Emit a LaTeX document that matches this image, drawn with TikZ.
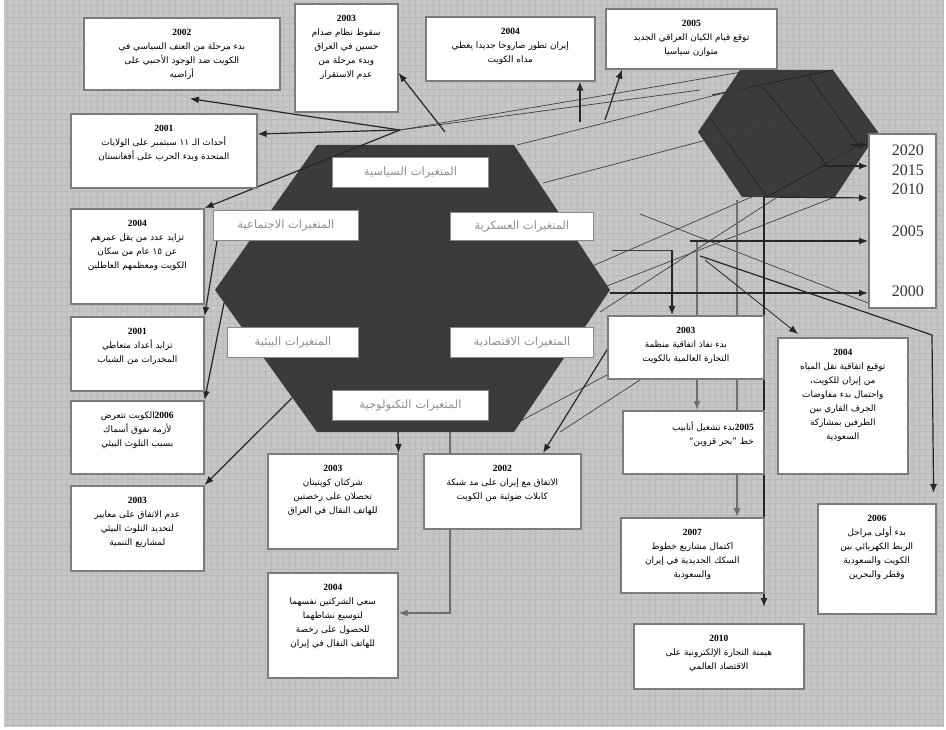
\documentclass[tikz,border=0pt]{standalone}
\usepackage{fontspec}
\setmainfont{Liberation Serif}
\newfontfamily\arabicfont[Script=Arabic]{DejaVu Sans}
\TeXXeTstate=1
\usetikzlibrary{arrows.meta,calc}
\pgfdeclarelayer{bg}
\pgfdeclarelayer{lines}
\pgfsetlayers{bg,lines,main}
\definecolor{bgc}{HTML}{C6C6C6}
\definecolor{gridc}{HTML}{BABABA}
\definecolor{hexc}{HTML}{3B3B3B}
\definecolor{hexline}{HTML}{262626}
\definecolor{boxc}{HTML}{7C7C7C}
\definecolor{lblc}{HTML}{8E8E8E}
\definecolor{thinc}{HTML}{3F3F3F}
\definecolor{grayl}{HTML}{6E6E6E}
\newcommand\ar[1]{{\arabicfont\beginR #1\endR}}
\newcommand\yr[1]{{\fontsize{9.5}{12}\selectfont\bfseries #1}}
\newcommand\yl[1]{{\rmfamily\fontsize{9.5}{12}\selectfont\bfseries\beginL #1\endL}}
\newcommand\abox[7][]{\node[box,anchor=north west,minimum width=#5pt,minimum height=#6pt,#1] (#2) at (#3,#4) {\parbox[c][#6pt][t]{#5pt}{\centering\vspace{11pt}#7\par}};}
\begin{document}
\begin{tikzpicture}[x=1pt,y=-1pt,
  box/.style={draw=boxc,line width=1.6pt,fill=white,inner sep=0pt,font=\fontsize{8.9}{14}\selectfont},
  lbl/.style={draw=boxc!90,line width=0.9pt,fill=white,text=lblc,inner sep=0pt,anchor=north west,font=\fontsize{11.5}{12}\selectfont},
  yrs/.style={anchor=east,inner sep=0pt,font=\fontsize{16}{16}\selectfont,text=black!80},
  arr/.style={-{Latex[length=9pt,width=7pt]},line width=1.2pt,black!85},
  garr/.style={-{Latex[length=9pt,width=7pt]},line width=1.3pt,grayl},
  thin/.style={line width=0.7pt,thinc},
  hexl/.style={line width=0.9pt,hexline}]
\useasboundingbox (0,0) rectangle (946,730);
\begin{pgfonlayer}{bg}
\fill[white] (0,0) rectangle (946,730);
\fill[bgc] (4,0) rectangle (944,727);
\foreach \i in {7,13,...,943} \draw[gridc,line width=0.25pt] (\i,0) -- (\i,727);
\foreach \j in {5,11,...,726} \draw[gridc,line width=0.25pt] (4,\j) -- (944,\j);
% big hexagon
\fill[hexc] (317,145) -- (514,145) -- (610,290) -- (514,432) -- (317,432) -- (215,290) -- cycle;
% small hexagon
\fill[hexc] (740,70) -- (833,70) -- (878,132) -- (835,197) -- (742,197) -- (698,132) -- cycle;
\draw[hexl] (710,118) -- (767,197);
\draw[hexl] (763,87) -- (827,165);
\draw[hexl] (808,75) -- (860,147);
\draw[hexl] (767,197) -- (860,145);
\draw[hexl] (712,95) -- (833,70);
\end{pgfonlayer}

% ---------- boxes ----------
\abox{b02t}{83}{17}{196}{72}{\yr{2002}\\ \ar{بدء مرحلة من العنف السياسي في}\\ \ar{الكويت ضد الوجود الأجنبي على}\\ \ar{أراضيه}}
\abox{b03t}{294}{3}{103}{108}{\yr{2003}\\ \ar{سقوط نظام صدام}\\ \ar{حسين في العراق}\\ \ar{وبدء مرحلة من}\\ \ar{عدم الاستقرار}}
\abox{b04t}{425}{16}{169}{64}{\yr{2004}\\ \ar{إيران تطور صاروخا جديدا يغطي}\\ \ar{مداه الكويت}}
\abox{b05t}{605}{8}{171}{60}{\yr{2005}\\ \ar{توقع قيام الكيان العراقي الجديد}\\ \ar{متوازن سياسيا}}
\abox{b01}{70}{113}{186}{74}{\yr{2001}\\ \ar{أحداث الـ ١١ سبتمبر على الولايات}\\ \ar{المتحدة وبدء الحرب على أفغانستان}}
\abox{b04l}{70}{208}{133}{95}{\yr{2004}\\ \ar{تزايد عدد من يقل عمرهم}\\ \ar{عن ١٥ عام من سكان}\\ \ar{الكويت ومعظمهم العاطلين}}
\abox{b01l}{70}{316}{133}{74}{\yr{2001}\\ \ar{تزايد أعداد متعاطي}\\ \ar{المخدرات من الشباب}}
\abox{b06l}{70}{400}{133}{73}{\ar{\yl{2006}الكويت تتعرض}\\ \ar{لأزمة نفوق أسماك}\\ \ar{بسبب التلوث البيئي}}
\abox{b03l}{70}{485}{133}{85}{\yr{2003}\\ \ar{عدم الاتفاق على معايير}\\ \ar{لتحديد التلوث البيئي}\\ \ar{لمشاريع التنمية}}
\abox{b03b}{267}{453}{130}{95}{\yr{2003}\\ \ar{شركتان كويتيتان}\\ \ar{تحصلان على رخصتين}\\ \ar{للهاتف النقال في العراق}}
\abox{b02b}{423}{453}{157}{75}{\yr{2002}\\ \ar{الاتفاق مع إيران على مد شبكة}\\ \ar{كابلات ضوئية من الكويت}}
\abox{b04b}{267}{572}{130}{105}{\yr{2004}\\ \ar{سعي الشركتين نفسهما}\\ \ar{لتوسيع نشاطهما}\\ \ar{للحصول على رخصة}\\ \ar{للهاتف النقال في إيران}}
\abox{b03r}{607}{315}{156}{63}{\yr{2003}\\ \ar{بدء نفاذ اتفاقية منظمة}\\ \ar{التجارة العالمية بالكويت}}
\abox{b05}{622}{410}{141}{63}{\raggedleft\rightskip=10pt \ar{\yl{2005}بدء تشغيل أنابيب}\\ \ar{خط ”بحر قزوين“}}
\abox{b04r}{777}{337}{130}{136}{\yr{2004}\\ \ar{توقيع اتفاقية نقل المياه}\\ \ar{من إيران للكويت،}\\ \ar{واحتمال بدء مفاوضات}\\ \ar{الجرف القاري بين}\\ \ar{الطرفين بمشاركة}\\ \ar{السعودية}}
\abox{b07}{620}{517}{143}{75}{\yr{2007}\\ \ar{اكتمال مشاريع خطوط}\\ \ar{السكك الحديدية في إيران}\\ \ar{والسعودية}}
\abox{b10}{633}{623}{170}{65}{\yr{2010}\\ \ar{هيمنة التجارة الإلكترونية على}\\ \ar{الاقتصاد العالمي}}
\abox{b06r}{817}{503}{118}{110}{\yr{2006}\\ \ar{بدء أولى مراحل}\\ \ar{الربط الكهربائي بين}\\ \ar{الكويت والسعودية}\\ \ar{وقطر والبحرين}}

% years box
\node[box,anchor=north west,minimum width=67pt,minimum height=174pt] (yrsbox) at (868,133) {};
\node[yrs] (t2020) at (924,150) {2020};
\node[yrs] (t2015) at (924,170) {2015};
\node[yrs] (t2010) at (924,189) {2010};
\node[yrs] (t2005) at (924,231) {2005};
\node[yrs] (t2000) at (924,291) {2000};

% hexagon labels
\node[lbl,minimum width=156pt,minimum height=30pt] (lpol) at (332,157) {\ar{المتغيرات السياسية}};
\node[lbl,minimum width=145pt,minimum height=30pt] (lsoc) at (213,210) {\ar{المتغيرات الاجتماعية}};
\node[lbl,minimum width=143pt,minimum height=28pt] (lmil) at (450,212) {\ar{المتغيرات العسكرية}};
\node[lbl,minimum width=131pt,minimum height=30pt] (lenv) at (227,327) {\ar{المتغيرات البيئية}};
\node[lbl,minimum width=143pt,minimum height=30pt] (leco) at (450,327) {\ar{المتغيرات الاقتصادية}};
\node[lbl,minimum width=156pt,minimum height=30pt] (ltec) at (332,390) {\ar{المتغيرات التكنولوجية}};

% ---------- connectors ----------
\coordinate (P) at (400,130);
\coordinate (pA3) at (445,132);
\coordinate (pA4) at (580,122);
\coordinate (pA5) at (605,120);
\coordinate (pL3) at (224,303);
\coordinate (pL4) at (292,398);
\coordinate (pD1) at (398,432);
\coordinate (pD2) at (450,432);
\coordinate (kD2) at (450,613);
\coordinate (pD3) at (610,345);
\coordinate (pR1) at (672,250);
\coordinate (pR2) at (697,241);
\coordinate (pR3) at (737,200);
\coordinate (pR4) at (764,197);
\coordinate (pR5) at (705,260);
\coordinate (pR6) at (700,256);
\coordinate (kR6) at (932,335);
\coordinate (p2020) at (850,145);
\coordinate (p2015) at (823,166);
\coordinate (p2005) at (690,241);
\coordinate (p2000) at (610,293);
\begin{pgfonlayer}{lines}
% thin background lines
\draw[thin] (P) -- (742,72);
\draw[thin] (P) -- (700,90);
\draw[thin] (517,145) -- (760,84);
\draw[thin] (543,183) -- (775,122);
\draw[thin] (590,267) -- (800,176);
\draw[thin] (607,286) -- (835,197);
\draw[thin] (600,312) -- (850,150);
\draw[thin] (640,214) -- (868,303);
\draw[thin] (612,250) -- (pR1);
\draw[thin] (500,432) -- (620,368);
\draw[thin] (560,432) -- (640,380);
% arrows
\draw[arr] (P) -- ($(b01.north east)+(0,21)$);
\draw[arr] (P) -- ($(b02t.south)+(8,8)$);
\draw[arr] (pA3) -- ($(b03t.north east)+(0,70)$);
\draw[arr] (pA4) -- ($(b04t.south west)+(155,0)$);
\draw[arr] (pA5) -- ($(b05t.south west)+(17,0)$);
\draw[arr] (P) -- (b04l.north east);
\draw[arr] ($(lsoc.south west)+(4,0)$) -- (b01l.north east);
\draw[arr] (pL3) -- (b06l.north east);
\draw[arr] (pL4) -- (b03l.north east);
\draw[arr] (pD1) -- (b03b.north east);
\draw[arr,grayl] (pD2) -- (kD2) -- ($(b04b.north east)+(0,41)$);
\draw[arr] (pD3) -- ($(b02b.north west)+(120,0)$);
\draw[arr] (pR1) -- ($(b03r.north west)+(65,0)$);
\draw[garr] (pR2) -- ($(b05.north west)+(75,0)$);
\draw[garr] (pR3) -- ($(b07.north west)+(117,0)$);
\draw[arr,line width=1.6pt] (pR4) -- ($(b10.north west)+(131,-16)$);
\draw[arr,line width=0.8pt] (pR5) -- ($(b04r.north west)+(21,-3)$);
\draw[arr] (pR6) -- (kR6) -- ($(b06r.north east)+(-3,-10)$);
\draw[arr] (p2020) -- ($(yrsbox.north west)+(0,12)$);
\draw[arr] (p2015) -- ($(yrsbox.north west)+(0,33)$);
\draw[arr] (pR4) -- ($(yrsbox.north west)+(0,65)$);
\draw[arr] (p2005) -- ($(yrsbox.north west)+(0,108)$);
\draw[arr,line width=1.6pt] (p2000) -- ($(yrsbox.north west)+(0,160)$);
\end{pgfonlayer}
\end{tikzpicture}
\end{document}
